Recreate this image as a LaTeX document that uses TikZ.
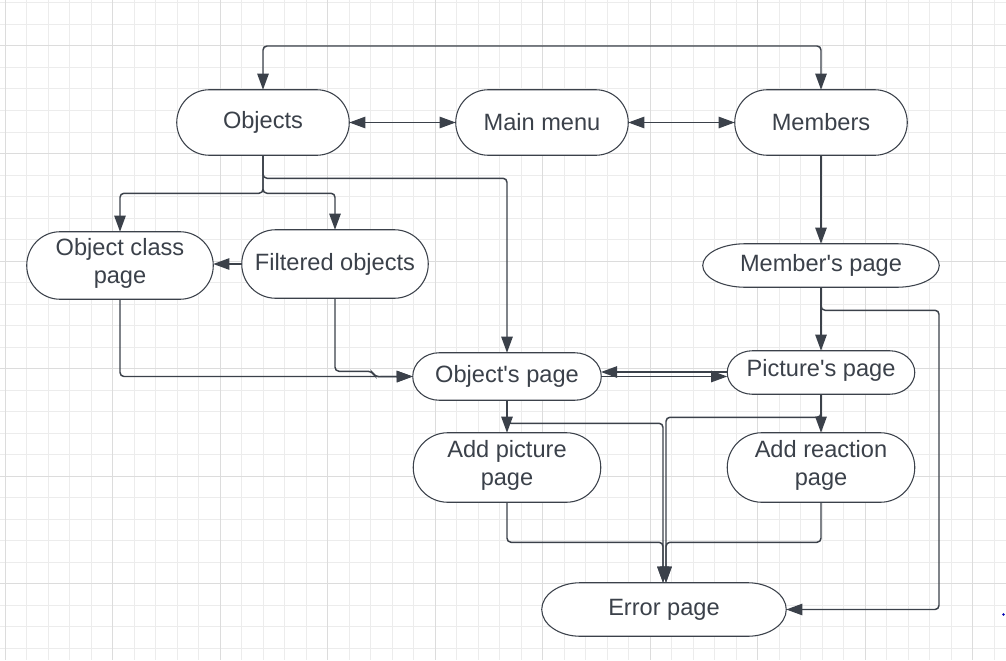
\documentclass[tikz,border=0pt]{standalone}
\usepackage{fontspec}
\setmainfont{Liberation Sans}[Ligatures=TeXOff]
\usetikzlibrary{arrows.meta,calc}
\definecolor{ink}{RGB}{59,65,74}
\definecolor{gridminor}{RGB}{236,236,236}
\definecolor{gridmajor}{RGB}{220,220,220}
\newcommand\termout[2]{%
  \draw[nodeline] let \p1=(#1.north west), \p2=(#1.south east), \n1={(\y1-\y2)/2} in
    (\x1+#2,\y1) -- (\x2-#2,\y1)
    arc[start angle=90, end angle=-90, x radius=#2, y radius=\n1]
    -- (\x1+#2,\y2)
    arc[start angle=270, end angle=90, x radius=#2, y radius=\n1] -- cycle;}
\begin{document}
\begin{tikzpicture}[x=0.75pt,y=-0.75pt,
  box/.style={rectangle, inner sep=0pt, text=ink, align=center,
    font=\fontsize{17.7}{20.5}\selectfont},
  nodeline/.style={draw=ink, line width=0.8pt, fill=white},
  conn/.style={draw=ink, line width=1.1pt, rounded corners=3pt,
    arrows={-Triangle[length=12pt,width=8.5pt]}},
  biconn/.style={conn, arrows={Triangle[length=12pt,width=8.5pt]-Triangle[length=12pt,width=8.5pt]}},
  minorline/.style={draw=gridminor, line width=0.75pt},
  majorline/.style={draw=gridmajor, line width=0.75pt}]
\useasboundingbox (0,0) rectangle (1006,660);
\fill[white] (0,0) rectangle (1006,660);
% grid
\foreach \i in {0,...,46} \draw[minorline] (5+21.5*\i,0) -- (5+21.5*\i,660);
\foreach \i in {0,...,30} \draw[minorline] (0,3+21.5*\i) -- (1006,3+21.5*\i);
\foreach \i in {0,...,9} \draw[majorline] (5+107.5*\i,0) -- (5+107.5*\i,660);
\foreach \i in {0,...,5} \draw[majorline] (0,46+107.5*\i) -- (1006,46+107.5*\i);

% nodes (placeholders for geometry)
\node[box, minimum width=129pt, minimum height=48.75pt] (obj) at (263,122.5) {};
\node[box, minimum width=129pt, minimum height=48.75pt] (menu) at (542,122.5) {};
\node[box, minimum width=129pt, minimum height=48.75pt] (mem) at (821,122.5) {};
\node[box, minimum width=139.5pt, minimum height=50.25pt] (ocp) at (120,265.5) {};
\node[box, minimum width=139.5pt, minimum height=51pt] (fo) at (335,264) {};
\node[box, minimum width=177pt, minimum height=32.25pt] (mp) at (821,265.5) {};
\node[box, minimum width=141pt, minimum height=35.25pt] (op) at (507,376.5) {};
\node[box, minimum width=140.25pt, minimum height=32.25pt] (pp) at (821,372.5) {};
\node[box, minimum width=140.25pt, minimum height=51.75pt] (app) at (507,467.5) {};
\node[box, minimum width=140.25pt, minimum height=51.75pt] (arp) at (821,467.5) {};
\node[box, minimum width=183pt, minimum height=39.75pt] (ep) at (664,609.5) {};

\coordinate (top) at (0,46);
\coordinate (rc) at (939,609.5);

% connectors
\draw[biconn] (obj.north) -- (obj.north |- top) -- (mem.north |- top) -- (mem.north);
\draw[biconn, rounded corners=0pt] (obj.east) -- (menu.west);
\draw[biconn, rounded corners=0pt] (menu.east) -- (mem.west);
\draw[conn] (obj.south) -- ++(0,23) -| (op.north);
\draw[conn] (obj.south) -- ++(0,38) -| (ocp.north);
\draw[conn] (obj.south) -- ++(0,38) -| (fo.north);
\draw[conn] (fo.west) -- (fo.west -| ocp.east);
\draw[conn] (ocp.south) |- (op.west);
\draw[conn] (fo.south) -- ++(0,73) -- ++(37,0) -- ++(3,5.5) -- (op.west);
\draw[conn] (mem.south) -- (mp.north);
\draw[conn] (mp.south) -- (pp.north);
\draw[conn] (mp.south) -- ++(0,23) -| (rc) -- (ep.east);
\coordinate (ppu) at (728,372);
\coordinate (opu) at (601,372);
\draw[conn, rounded corners=0pt] (ppu) -- (opu);
\draw[conn, rounded corners=0pt] (op.east) -- (op.east -| pp.west);
\draw[conn] (op.south) -- (app.north);
\draw[conn] (op.south) -- ++(0,23) -| ([xshift=-0.75pt]ep.north);
\draw[conn] (pp.south) -- (arp.north);
\draw[conn] (pp.south) -- ++(0,23) -| ([xshift=1.5pt]ep.north);
\draw[conn] (app.south) -- ++(0,40) -| ([xshift=-0.75pt]ep.north);
\draw[conn] (arp.south) -- ++(0,40) -| ([xshift=1.5pt]ep.north);

% outlines
\termout{obj}{24.4pt}
\termout{menu}{24.4pt}
\termout{mem}{24.4pt}
\termout{ocp}{25pt}
\termout{fo}{25.5pt}
\termout{mp}{32pt}
\termout{op}{20pt}
\termout{pp}{19pt}
\termout{app}{25.9pt}
\termout{arp}{25.9pt}
\termout{ep}{29pt}

% labels
\node[box] at (obj) {Objects};
\node[box] at (menu) {Main menu};
\node[box] at (mem) {Members};
\node[box] at ([yshift=1.5pt]ocp) {Object class\\page};
\node[box] at (fo) {Filtered objects};
\node[box] at (mp) {Member's page};
\node[box] at (op) {Object's page};
\node[box] at ([yshift=1.5pt]pp) {Picture's page};
\node[box] at ([yshift=1.5pt]app) {Add picture\\page};
\node[box] at ([yshift=1.5pt]arp) {Add reaction\\page};
\node[box] at (ep) {Error page};

\fill[blue!70!black] (1003.5,614.5) circle (1pt);
\end{tikzpicture}
\end{document}
